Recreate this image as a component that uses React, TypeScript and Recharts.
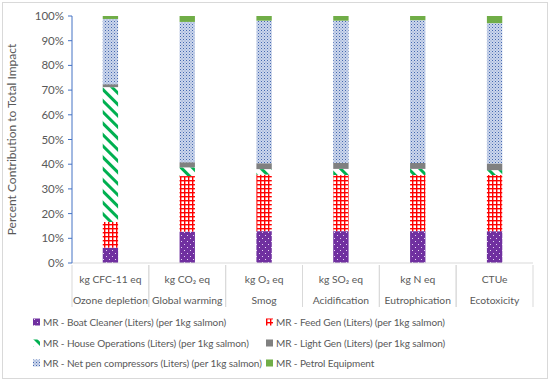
import { BarChart, Bar, XAxis, YAxis, Legend } from "recharts";

const categories = ["Ozone depletion", "Global warming", "Smog", "Acidification", "Eutrophication", "Ecotoxicity"];
const units = ["kg CFC-11 eq", "kg CO₂ eq", "kg O₃ eq", "kg SO₂ eq", "kg N eq", "CTUe"];

const boatCleaner = [6.2, 12.7, 12.9, 12.9, 12.9, 12.9];
const feedGen = [10.4, 22.5, 22.9, 22.7, 22.7, 22.7];
const houseOps = [54.6, 3.5, 2.2, 2.5, 2.5, 2.0];
const lightGen = [1.2, 2.1, 2.4, 2.5, 2.4, 2.7];
const netPen = [26.4, 56.8, 57.7, 57.5, 57.8, 56.8];
const petrol = [1.2, 2.4, 1.9, 1.9, 1.7, 2.9];

const yTicks = [0, 10, 20, 30, 40, 50, 60, 70, 80, 90, 100];

const SERIES = [
  { key: "boat", name: "MR - Boat Cleaner (Liters) (per 1kg salmon)", fill: "url(#pBoat)" },
  { key: "feed", name: "MR - Feed Gen (Liters) (per 1kg salmon)", fill: "url(#pFeed)" },
  { key: "house", name: "MR - House Operations (Liters) (per 1kg salmon)", fill: "url(#pHouse)" },
  { key: "light", name: "MR - Light Gen (Liters) (per 1kg salmon)", fill: "#808080" },
  { key: "net", name: "MR - Net pen compressors (Liters) (per 1kg salmon)", fill: "url(#pNet)" },
  { key: "petrol", name: "MR - Petrol Equipment", fill: "#70AD47" },
];

const data = categories.map((c, i) => ({
  category: c,
  boat: boatCleaner[i],
  feed: feedGen[i],
  house: houseOps[i],
  light: lightGen[i],
  net: netPen[i],
  petrol: petrol[i],
}));

const FONT = "Lato, 'Open Sans', sans-serif";
const TEXT = "#595959";
const BAND = (533 - 72) / categories.length;

const Patterns = () => (
  <defs>
    <pattern id="pBoat" width="6" height="6" patternUnits="userSpaceOnUse">
      <rect width="6" height="6" fill="#7030A0" />
      <rect x="1" y="1" width="1" height="1" fill="#E6D6F2" />
      <rect x="4" y="4" width="1" height="1" fill="#E6D6F2" />
    </pattern>
    <pattern id="pFeed" width="4" height="4" patternUnits="userSpaceOnUse">
      <rect width="4" height="4" fill="#FFFFFF" />
      <rect x="0" y="0" width="4" height="1.4" fill="#FF0000" />
      <rect x="0" y="0" width="1.4" height="4" fill="#FF0000" />
    </pattern>
    <pattern id="pHouse" width="8" height="8" patternUnits="userSpaceOnUse" patternTransform="rotate(-45)">
      <rect width="8" height="8" fill="#FFFFFF" />
      <rect x="0" y="0" width="3" height="8" fill="#00B050" />
    </pattern>
    <pattern id="pNet" width="3" height="3" patternUnits="userSpaceOnUse">
      <rect width="3" height="3" fill="#CCD6EB" />
      <rect x="0" y="0" width="1" height="1" fill="#4468B0" />
      <rect x="1.5" y="1.5" width="1" height="1" fill="#7F97CB" />
    </pattern>
  </defs>
);

const CategoryTick = (props: any) => {
  const { x, y, payload } = props;
  const i = payload.index;
  return (
    <g>
      <line x1={x - BAND / 2} y1={y} x2={x - BAND / 2} y2={y + 42} stroke="#D9D9D9" />
      <line x1={x + BAND / 2} y1={y} x2={x + BAND / 2} y2={y + 42} stroke="#D9D9D9" />
      <text x={x} y={y + 18} textAnchor="middle" fontSize={10.3} fill={TEXT} fontFamily={FONT}>
        {units[i]}
      </text>
      <text x={x} y={y + 39} textAnchor="middle" fontSize={10.3} fill={TEXT} fontFamily={FONT}>
        {categories[i]}
      </text>
    </g>
  );
};

const LegendContent = () => (
  <div
    style={{
      position: "relative",
      width: 550,
      height: 62,
      fontFamily: FONT,
      fontSize: 10,
      letterSpacing: -0.1,
      color: TEXT,
    }}
  >
    {SERIES.map((s, i) => {
      const col = i % 2;
      const row = Math.floor(i / 2);
      return (
        <div
          key={s.key}
          style={{
            position: "absolute",
            left: col === 0 ? 33 : 266,
            top: row * 20.5,
            height: 20,
            display: "flex",
            alignItems: "center",
            whiteSpace: "nowrap",
          }}
        >
          <svg width={8} height={8} style={{ marginRight: 2 }}>
            <rect width={7} height={7} y={0.5} fill={s.fill} />
          </svg>
          {s.name}
        </div>
      );
    })}
  </div>
);

export default function App() {
  return (
    <div style={{ position: "absolute", left: 0, top: 0, width: 550, height: 382, background: "#fff" }}>
      <div
        style={{
          position: "absolute",
          left: 2,
          top: 2,
          width: 544,
          height: 375,
          border: "1px solid #D9D9D9",
        }}
      />
      <BarChart
        width={550}
        height={382}
        data={data}
        margin={{ top: 16, right: 17, bottom: 8, left: 10 }}
        barCategoryGap="60%"
        style={{ position: "absolute", left: 0, top: 0 }}
      >
        <Patterns />
        <XAxis
          dataKey="category"
          height={49}
          axisLine={{ stroke: "#D9D9D9" }}
          tickLine={false}
          tickSize={0}
          tick={<CategoryTick />}
          interval={0}
        />
        <YAxis
          width={62}
          domain={[0, 100]}
          ticks={yTicks}
          allowDataOverflow
          tickFormatter={(v) => `${v}%`}
          axisLine={{ stroke: "#4472C4" }}
          tickLine={{ stroke: "#4472C4" }}
          tickSize={4}
          tickMargin={4}
          tick={{ fontSize: 11.5, fill: TEXT, fontFamily: FONT }}
          label={{
            value: "Percent Contribution to Total Impact",
            angle: -90,
            position: "insideLeft",
            offset: 2,
            style: { textAnchor: "middle", fontSize: 12, fill: TEXT, fontFamily: FONT },
          }}
        />
        <Legend verticalAlign="bottom" align="left" content={<LegendContent />} wrapperStyle={{ left: 0, width: 550 }} />
        {SERIES.map((s) => (
          <Bar key={s.key} dataKey={s.key} name={s.name} stackId="a" fill={s.fill} isAnimationActive={false} />
        ))}
      </BarChart>
    </div>
  );
}
